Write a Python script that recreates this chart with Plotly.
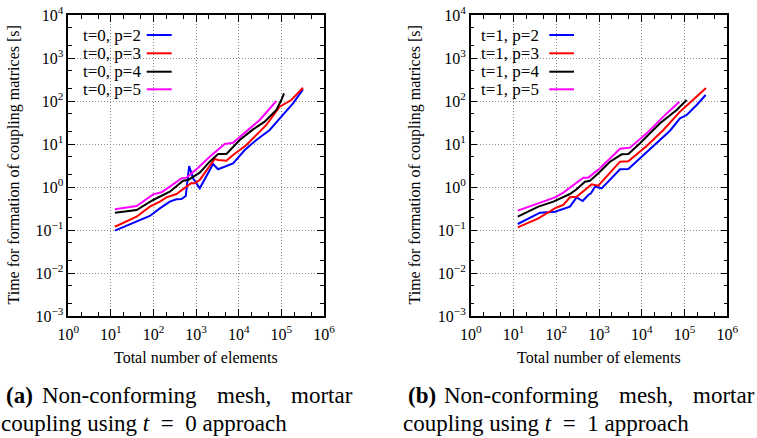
import plotly.graph_objects as go

# ---------------- data ----------------
# (a) t = 0 approach
a_p2_x = [12.4, 33.3, 81.8, 140.6, 241, 345, 452, 571, 684, 849, 1216, 2495, 3273, 7345, 13800, 25880, 53200, 99800, 187500, 321400]
a_p2_y = [0.0964, 0.148, 0.212, 0.319, 0.456, 0.516, 0.526, 0.618, 3.08, 1.59, 0.931, 3.43, 2.58, 3.55, 7.24, 12.4, 21.2, 43.3, 88.3, 186.6]
a_p3_x = [12.4, 40.0, 81.8, 140.6, 201, 345, 592, 774, 927, 1216, 2729, 3273, 5129, 7345, 15100, 25880, 44360, 91200, 171000, 321400]
a_p3_y = [0.119, 0.204, 0.349, 0.456, 0.575, 0.687, 1.02, 1.24, 1.22, 1.46, 4.48, 4.25, 4.09, 5.55, 9.48, 16.2, 27.7, 73.8, 105.4, 204]
a_p4_x = [12.4, 40.0, 97.9, 168, 241, 494, 647, 1216, 2084, 3273, 5129, 10520, 21630, 40550, 76210, 99800, 115300]
a_p4_y = [0.253, 0.292, 0.499, 0.652, 0.778, 1.40, 1.46, 2.15, 3.88, 5.85, 5.85, 12.4, 21.9, 33.0, 61.8, 105.4, 150.7]
a_p5_x = [12.4, 40.0, 97.9, 153.8, 241, 452, 592, 1112, 2084, 4677, 7345, 15100, 30970, 76210]
a_p5_y = [0.303, 0.361, 0.676, 0.752, 1.02, 1.59, 1.65, 2.81, 5.07, 10.0, 10.7, 19.4, 36.1, 100]

# (b) t = 1 approach
b_p2_x = [12.6, 41.7, 93.5, 209, 300, 415, 562, 650, 805, 1153, 3097, 4853, 9099, 22280, 45710, 78340, 112200, 192300, 311900]
b_p2_y = [0.138, 0.253, 0.267, 0.349, 0.575, 0.472, 0.652, 0.713, 1.02, 0.931, 2.58, 2.62, 4.65, 10.4, 20.4, 39.5, 47.2, 80.7, 138]
b_p3_x = [12.6, 38.2, 98.9, 146.6, 209, 300, 673, 964, 3097, 4853, 13030, 31990, 78340, 160700, 317700]
b_p3_y = [0.115, 0.187, 0.330, 0.381, 0.575, 0.596, 1.15, 1.07, 3.88, 3.95, 8.97, 21.2, 56.5, 105.4, 200]
b_p4_x = [12.6, 38.2, 85.7, 209, 300, 470, 615, 964, 1807, 3388, 4853, 9099, 26730, 65460, 112200]
b_p4_y = [0.204, 0.349, 0.456, 0.687, 0.883, 1.33, 1.40, 2.08, 3.88, 5.75, 5.85, 10.4, 30.3, 61.8, 105.4]
b_p5_x = [12.6, 41.7, 93.5, 146.6, 251, 430, 562, 1054, 3097, 5309, 13030, 31990, 75680]
b_p5_y = [0.282, 0.433, 0.575, 0.738, 1.11, 1.65, 1.65, 2.72, 7.78, 8.22, 17.7, 43.3, 96.4]

series_colors = ["#0000ff", "#ff0000", "#000000", "#ff00ff"]
names_a = ["t=0, p=2", "t=0, p=3", "t=0, p=4", "t=0, p=5"]
names_b = ["t=1, p=2", "t=1, p=3", "t=1, p=4", "t=1, p=5"]

x_tickvals = [1, 10, 100, 1000, 10000, 100000, 1000000]
x_ticktext = ["10<sup>0</sup>", "10<sup>1</sup>", "10<sup>2</sup>", "10<sup>3</sup>",
              "10<sup>4</sup>", "10<sup>5</sup>", "10<sup>6</sup>"]
y_tickvals = [0.001, 0.01, 0.1, 1, 10, 100, 1000, 10000]
y_ticktext = ["10<sup>\u22123</sup>", "10<sup>\u22122</sup>", "10<sup>\u22121</sup>", "10<sup>0</sup>",
              "10<sup>1</sup>", "10<sup>2</sup>", "10<sup>3</sup>", "10<sup>4</sup>"]

x_title = "Total number of elements"
y_title = "Time for formation of coupling matrices [s]"

W, H = 757, 438
FONT = "Liberation Serif"


def px(x):
    return x / W


def py(y):
    return 1 - y / H


fig = go.Figure()

data_a = [(a_p2_x, a_p2_y), (a_p3_x, a_p3_y), (a_p4_x, a_p4_y), (a_p5_x, a_p5_y)]
data_b = [(b_p2_x, b_p2_y), (b_p3_x, b_p3_y), (b_p4_x, b_p4_y), (b_p5_x, b_p5_y)]

for (xs, ys), c, n in zip(data_a, series_colors, names_a):
    fig.add_trace(go.Scatter(x=xs, y=ys, mode="lines", name=n, showlegend=False,
                             line=dict(color=c, width=2), xaxis="x", yaxis="y"))
for (xs, ys), c, n in zip(data_b, series_colors, names_b):
    fig.add_trace(go.Scatter(x=xs, y=ys, mode="lines", name=n, showlegend=False,
                             line=dict(color=c, width=2), xaxis="x2", yaxis="y2"))

ydom = [py(316), py(15)]
xdom_a = [px(68.3), px(324)]
xdom_b = [px(470.7), px(727.3)]


def axis_common():
    return dict(ticks="inside", ticklen=7, tickwidth=1, tickcolor="black",
                minor=dict(ticks="inside", ticklen=4, tickwidth=1, tickcolor="black", showgrid=False),
                showline=True, linecolor="black", linewidth=1.5, mirror="allticks",
                showgrid=True, gridcolor="#8c8c8c", griddash="1px,2px", gridwidth=1,
                zeroline=False, automargin=False,
                tickfont=dict(family=FONT, size=16, color="black"))


def xaxis_cfg(dom, anchor):
    return dict(type="log", range=[0, 6], domain=dom, anchor=anchor,
                tickvals=x_tickvals, ticktext=x_ticktext, ticklabelstandoff=3, **axis_common())


def yaxis_cfg(anchor):
    return dict(type="log", range=[-3, 4], domain=ydom, anchor=anchor,
                tickvals=y_tickvals, ticktext=y_ticktext, **axis_common())


fig.update_layout(
    template="none",
    width=W, height=H,
    margin=dict(l=0, r=0, t=0, b=0, pad=0),
    paper_bgcolor="white", plot_bgcolor="white",
    showlegend=False,
    xaxis=xaxis_cfg(xdom_a, "y"),
    yaxis=yaxis_cfg("x"),
    xaxis2=xaxis_cfg(xdom_b, "y2"),
    yaxis2=yaxis_cfg("x2"),
    font=dict(family=FONT, color="black"),
)

shapes = []
annotations = []

# white key box hiding the grid under the key (gnuplot style)
for left, right in ((68.3, 181), (470.7, 583)):
    shapes.append(dict(type="rect", xref="paper", yref="paper", layer="between",
                       x0=px(left + 1.5), x1=px(right), y0=py(108), y1=py(16.5),
                       fillcolor="white", line=dict(width=0)))

row_y = [35, 53.3, 71.7, 89.3]
for names, txt_right, l0, l1 in ((names_a, 142, 146.7, 171.7), (names_b, 539.5, 549.3, 574)):
    for n, c, ry in zip(names, series_colors, row_y):
        annotations.append(dict(text=n, xref="paper", yref="paper", x=px(txt_right), y=py(ry),
                                xanchor="right", yanchor="middle", showarrow=False, borderpad=0,
                                font=dict(family=FONT, size=17, color="black")))
        shapes.append(dict(type="line", xref="paper", yref="paper", layer="above",
                           x0=px(l0), x1=px(l1), y0=py(ry), y1=py(ry),
                           line=dict(color=c, width=2)))

for dom in (xdom_a, xdom_b):
    annotations.append(dict(text=x_title, xref="paper", yref="paper", x=(dom[0] + dom[1]) / 2,
                            y=py(357), xanchor="center", yanchor="middle", showarrow=False,
                            font=dict(family=FONT, size=16, color="black")))
for xc in (13, 414):
    annotations.append(dict(text=y_title, xref="paper", yref="paper", x=px(xc),
                            y=(ydom[0] + ydom[1]) / 2, xanchor="center", yanchor="middle",
                            textangle=-90, showarrow=False,
                            font=dict(family=FONT, size=16, color="black")))

cap_font = dict(family=FONT, size=23, color="black")
cap_words = [
    ("<b>(a)</b>", 5), ("Non-conforming", 40.5), ("mesh,", 216), ("mortar", 290),
    ("<b>(b)</b>", 407.3), ("Non-conforming", 443), ("mesh,", 618.3), ("mortar", 691.7),
]
for t, xl in cap_words:
    annotations.append(dict(text=t, xref="paper", yref="paper", x=px(xl), y=py(395),
                            xanchor="left", yanchor="middle", showarrow=False, borderpad=0,
                            font=cap_font))
for t, xl in (("coupling using <i>t</i>\u2002=\u20020 approach", 0),
              ("coupling using <i>t</i>\u2002=\u20021 approach", 401.7)):
    annotations.append(dict(text=t, xref="paper", yref="paper", x=px(xl), y=py(423),
                            xanchor="left", yanchor="middle", showarrow=False, borderpad=0,
                            font=cap_font))

fig.update_layout(shapes=shapes, annotations=annotations)

fig.write_html("out.html")
